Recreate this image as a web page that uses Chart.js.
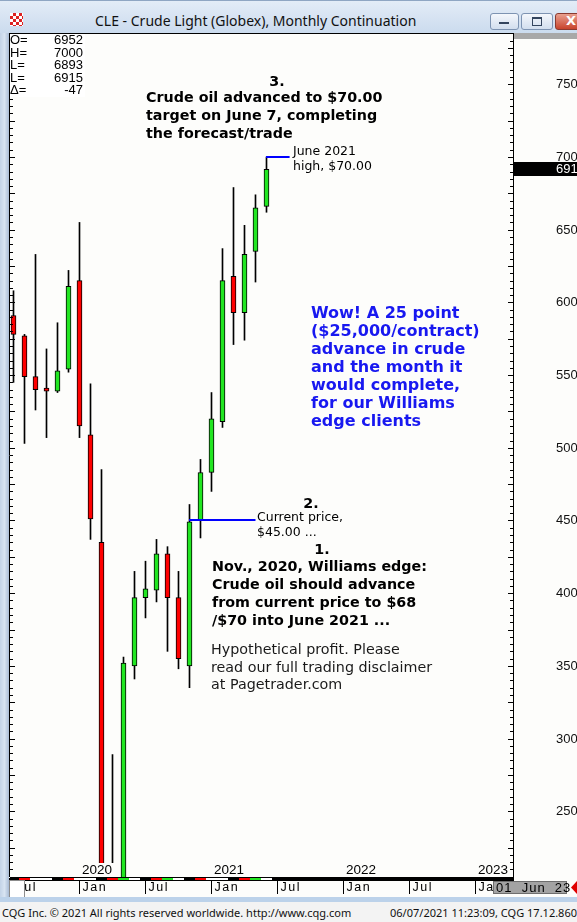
<!DOCTYPE html>
<html>
<head>
<meta charset="utf-8">
<script src="https://cdn.jsdelivr.net/npm/chart.js@4.4.0/dist/chart.umd.min.js"></script>
<style>
  html, body { margin:0; padding:0; width:577px; height:922px; overflow:hidden; background:#fdfdfb; }
  #wrap { position:relative; width:577px; height:922px; }
  #cv { position:absolute; left:0; top:0; }
  .t { position:absolute; white-space:nowrap; }
  .bold { font-family:"DejaVu Sans", sans-serif; font-weight:bold; font-size:14.3px; line-height:18px; color:#000; }
  .small { font-family:"DejaVu Sans", sans-serif; font-size:12.5px; line-height:14.6px; color:#000; }
  #titlebar { position:absolute; left:0; top:0; width:577px; height:33px; background:linear-gradient(#e3ecf7, #cbdbee); border-top:1px solid #8fa6c3; box-sizing:border-box; }
  #title { position:absolute; left:95px; top:10px; font-family:"Noto Sans", sans-serif; font-size:14px; color:#111; }
  .btn { position:absolute; top:12px; height:15px; border:1px solid #7d93b2; border-radius:3px; background:linear-gradient(#f4f7fc, #d2deee); }
  #frameL { position:absolute; left:0; top:33px; width:9px; height:864px; background:linear-gradient(90deg, #c3d3e7, #d8e4f2 50%, #a9bcd5); }
  #bandB { position:absolute; left:0; top:897px; width:577px; height:5px; background:#bcd2ea; }
  #status { position:absolute; left:0; top:902px; width:577px; height:20px; background:#f3f3f3; font-family:"Noto Sans", sans-serif; font-size:11px; color:#111; }
  #hdr { position:absolute; left:10px; top:34px; width:75px; height:63px; background:#fff; font-family:"Liberation Sans", sans-serif; font-size:13px; line-height:12.6px; color:#000; }
  #hdr div { position:relative; height:12.6px; }
  #hdr span.v { position:absolute; right:2px; }
</style>
</head>
<body>
<div id="wrap">
  <canvas id="cv" width="577" height="922"></canvas>

  <div id="titlebar">
    <div style="position:absolute;left:10px;top:12px;width:13px;height:13px;background:repeating-conic-gradient(#d22 0 25%, #fff 0 50%) 0 0/6px 6px;"></div>
    <div id="title">CLE - Crude Light (Globex), Monthly Continuation</div>
    <div class="btn" style="left:490px;width:27px;"><div style="position:absolute;left:8px;top:8px;width:10px;height:2px;background:#34455e;"></div></div>
    <div class="btn" style="left:521px;width:30px;"><div style="position:absolute;left:10px;top:3px;width:8px;height:6px;border:1px solid #34455e;border-top-width:2px;"></div></div>
    <div class="btn" style="left:555px;width:30px;border-color:#8a3a30;background:linear-gradient(#e9a08f, #c8432c);"><div style="position:absolute;left:10px;top:-1px;color:#fff;font:bold 13px 'DejaVu Sans';">X</div></div>
  </div>
  <div id="frameL"></div>
  <div id="bandB"></div>
  <div id="status">
    <div class="t" style="left:2px;top:3px;">CQG Inc. © 2021 All rights reserved worldwide. http://www.cqg.com</div>
    <div class="t" style="right:0px;top:3px;">06/07/2021 11:23:09, CQG 17.12.860</div>
  </div>

  <div id="hdr">
    <div>O=<span class="v">6952</span></div>
    <div>H=<span class="v">7000</span></div>
    <div>L=<span class="v">6893</span></div>
    <div>L=<span class="v">6915</span></div>
    <div>Δ=<span class="v">-47</span></div>
  </div>

  <div class="t bold" style="left:262px;top:72px;width:30px;text-align:center;">3.</div>
  <div class="t bold" style="left:146px;top:88px;">Crude oil advanced to $70.00<br>target on June 7, completing<br>the forecast/trade</div>
  <div class="t small" style="left:293px;top:144px;">June 2021<br>high, $70.00</div>

  <div class="t bold" style="left:311px;top:304px;color:#1818f0;font-size:16px;">Wow! A 25 point<br>($25,000/contract)<br>advance in crude<br>and the month it<br>would complete,<br>for our Williams<br>edge clients</div>

  <div class="t bold" style="left:296px;top:494px;width:30px;text-align:center;">2.</div>
  <div class="t small" style="left:257px;top:510px;">Current price,<br>$45.00 ...</div>
  <div class="t bold" style="left:307px;top:540px;width:30px;text-align:center;">1.</div>
  <div class="t bold" style="left:212px;top:557px;">Nov., 2020, Williams edge:<br>Crude oil should advance<br>from current price to $68<br>/$70 into June 2021 ...</div>
  <div class="t" style="left:211px;top:641px;font-family:'DejaVu Sans';font-size:14.3px;line-height:17.7px;color:#1a1a1a;">Hypothetical profit. Please<br>read our full trading disclaimer<br>at Pagetrader.com</div>
</div>

<script>
// monthly bars, Jul 2019 .. Jun 2021 (prices in $)
var months = ['Jul 19','Aug 19','Sep 19','Oct 19','Nov 19','Dec 19',
              'Jan 20','Feb 20','Mar 20','Apr 20','May 20','Jun 20',
              'Jul 20','Aug 20','Sep 20','Oct 20','Nov 20','Dec 20',
              'Jan 21','Feb 21','Mar 21','Apr 21','May 21','Jun 21'];
var opens  = [59.1, 57.7, 54.9, 54.1, 53.9, 55.4, 61.5, 50.9, 43.5, 20.3, 19.2, 35.0,
              39.7, 40.2, 42.7, 39.7, 35.0, 45.0, 48.3, 51.8, 61.8, 59.3, 63.5, 66.6];
var highs  = [60.8, 57.8, 63.3, 56.8, 58.6, 62.2, 65.5, 54.4, 48.5, 28.9, 35.6, 41.5,
              42.2, 43.7, 43.2, 41.5, 46.1, 49.2, 53.8, 63.7, 67.9, 65.3, 67.4, 70.0];
var lows   = [54.5, 50.3, 52.6, 50.7, 53.8, 55.2, 50.7, 43.7, 20.1, -37.6, 17.3, 34.1,
              38.3, 39.4, 36.0, 34.8, 33.5, 43.8, 47.0, 51.4, 57.1, 57.4, 61.4, 66.2];
var closes = [57.8, 54.9, 54.0, 53.9, 55.3, 61.1, 51.5, 45.1, 20.5, 18.8, 35.2, 39.7,
              40.3, 42.7, 39.7, 35.5, 44.9, 48.3, 52.0, 61.5, 59.3, 63.3, 66.5, 69.15];

// colour strip under the bars (K black, R red, G green, W white)
var stripColors = ['K','R','W','W','K','R','W','W','K','R','G','W',
                   'K','R','G','W','K','R','W','W','K','R','G','W'];

// bottom time axis (month index from Jul 2019)
var axisMonthIdx  = [0, 6, 12, 18, 24, 30, 36, 42];
var axisMonthText = ['Jul','Jan','Jul','Jan','Jul','Jan','Jul','Jan'];
var yearIdx  = [6, 18, 30, 42];
var yearText = ['2020','2021','2022','2023'];

// drawn levels: current price $45 (Nov 2020) and target high $70 (Jun 2021)
var levelPrice = [45.00, 70.00];
var levelFrom  = [16, 23];
var levelTo    = [22, 25.1];

var GREEN = '#22e622', RED = '#ff0000';
var stripMap = {K:'#000', R:'#ff0000', G:'#22e622', W:'#ffffff'};

var bodyData = [], wickData = [], bodyColors = [];
for (var i = 0; i < months.length; i++) {
  bodyData.push({x: i, y: [opens[i], closes[i]]});
  wickData.push({x: i, y: [lows[i], highs[i]]});
  bodyColors.push(closes[i] >= opens[i] ? GREEN : RED);
}

var decor = {
  id: 'decor',
  afterDatasetsDraw: function(chart) {
    var c = chart.ctx, xs = chart.scales.x, ys = chart.scales.y, a = chart.chartArea;
    c.save();

    // price labels on the right
    c.font = '13px "Liberation Sans"';
    c.textBaseline = 'middle';
    c.fillStyle = '#111';
    ys.ticks.forEach(function(t) {
      c.fillText(String(Math.round(t.value * 10)), 556, Math.round(ys.getPixelForValue(t.value)) + 0.5);
    });

    // level lines
    c.strokeStyle = '#0000ff'; c.lineWidth = 2;
    for (var k = 0; k < levelPrice.length; k++) {
      var py = Math.round(ys.getPixelForValue(levelPrice[k]));
      c.beginPath();
      c.moveTo(xs.getPixelForValue(levelFrom[k]) - 0.5, py);
      c.lineTo(xs.getPixelForValue(levelTo[k]), py);
      c.stroke();
    }

    // year labels (opaque)
    c.font = '13.5px "Liberation Sans"';
    for (k = 0; k < yearIdx.length; k++) {
      var yx = Math.floor(xs.getPixelForValue(yearIdx[k]));
      var w = c.measureText(yearText[k]).width;
      c.fillStyle = '#fdfdfb';
      c.fillRect(yx + 1, a.bottom - 14, w + 4, 14);
      c.fillStyle = '#000';
      c.fillText(yearText[k], yx + 3, a.bottom - 6.5);
    }

    // frame
    c.strokeStyle = '#000'; c.lineWidth = 1;
    c.beginPath();
    c.moveTo(a.left - 0.5, a.top); c.lineTo(a.left - 0.5, a.bottom);
    c.moveTo(a.left - 1, a.top - 0.5); c.lineTo(a.right + 1, a.top - 0.5);
    c.moveTo(a.right + 0.5, a.top); c.lineTo(a.right + 0.5, a.bottom + 3);
    c.stroke();

    // price ticks on both frame sides, every 0.5, long every 2.5
    c.beginPath();
    var k0 = Math.ceil(ys.min * 2), k1 = Math.floor(ys.max * 2);
    for (k = k0; k <= k1; k++) {
      var ty = Math.round(ys.getPixelForValue(k / 2)) + 0.5;
      var len = (k % 5 === 0) ? 5 : 3;
      c.moveTo(a.left, ty); c.lineTo(a.left + len, ty);
      c.moveTo(a.right, ty); c.lineTo(a.right - len, ty);
    }
    c.stroke();

    // colour strip
    c.fillStyle = '#000';
    c.fillRect(a.left, a.bottom, a.right - a.left + 1, 4);
    for (k = 0; k < stripColors.length; k++) {
      var sx0 = Math.round(xs.getPixelForValue(k - 0.5)), sx1 = Math.round(xs.getPixelForValue(k + 0.5));
      c.fillStyle = stripMap[stripColors[k]];
      c.fillRect(sx0, a.bottom + 1, sx1 - sx0, 2);
    }

    // month row
    c.font = '12.5px "Liberation Sans"';
    c.letterSpacing = '1.5px';
    c.fillStyle = '#000';
    c.beginPath();
    for (k = 0; k < axisMonthIdx.length; k++) {
      var mx = Math.floor(xs.getPixelForValue(axisMonthIdx[k])) + 0.5;
      c.moveTo(mx, a.bottom + 4); c.lineTo(mx, a.bottom + 17);
      c.fillText(axisMonthText[k], mx + 3, a.bottom + 11);
    }
    c.stroke();
    c.letterSpacing = '0px';

    // scroll box bottom left
    c.fillStyle = '#fff'; c.strokeStyle = '#8c8c8c';
    c.fillRect(9.5, a.bottom + 3.5, 15, 20); c.strokeRect(9.5, a.bottom + 3.5, 15, 20);

    // date box bottom right
    c.fillStyle = '#a3a3a3'; c.fillRect(493, a.bottom + 4, 74, 13);
    c.strokeStyle = '#6e6e6e'; c.strokeRect(493.5, a.bottom + 4.5, 73, 12);
    c.fillStyle = '#000'; c.font = '13px "Liberation Sans"'; c.letterSpacing = '1px';
    c.fillText('01  Jun  23', 496, a.bottom + 11);
    c.letterSpacing = '0px';
    c.fillStyle = '#e00000';
    c.beginPath(); c.moveTo(571, a.bottom + 10.5); c.lineTo(577, a.bottom + 4); c.lineTo(577, a.bottom + 17); c.closePath(); c.fill();

    // top right grey strip
    c.fillStyle = '#a8a8a8'; c.fillRect(a.right + 1, a.top - 1, 64, 6);

    // last price box
    var last = closes[closes.length - 1];
    var ly = Math.round(ys.getPixelForValue(last));
    c.fillStyle = '#000'; c.fillRect(a.right + 1, ly - 7, 64, 14);
    c.fillStyle = '#fff'; c.font = '13px "Liberation Sans"';
    c.fillText(String(Math.floor(last * 10)), 556, ly + 0.5);

    c.restore();
  }
};

new Chart(document.getElementById('cv'), {
  type: 'bar',
  data: {
    datasets: [
      { label: 'body', data: bodyData, backgroundColor: bodyColors, borderColor: '#000', borderWidth: 1,
        borderSkipped: false, barThickness: 5, maxBarThickness: 5, grouped: false, clip: 0 },
      { label: 'wick', data: wickData, backgroundColor: '#000', borderWidth: 0,
        barThickness: 1, maxBarThickness: 1, grouped: false, clip: 0 }
    ]
  },
  options: {
    responsive: false,
    animation: false,
    devicePixelRatio: 1,
    layout: { padding: { left: 10, top: 34, right: 0, bottom: 45 } },
    plugins: { legend: { display: false }, tooltip: { enabled: false } },
    scales: {
      x: { type: 'linear', min: -0.318, max: 45.41, offset: false, display: false },
      y: {
        position: 'right', min: 20.48, max: 78.46,
        grid: { display: false, drawTicks: false },
        border: { display: false },
        afterFit: function(s) { s.width = 64; },
        ticks: { stepSize: 5, includeBounds: false, display: false, padding: 0 }
      }
    }
  },
  plugins: [decor]
});
</script>
</body>
</html>
